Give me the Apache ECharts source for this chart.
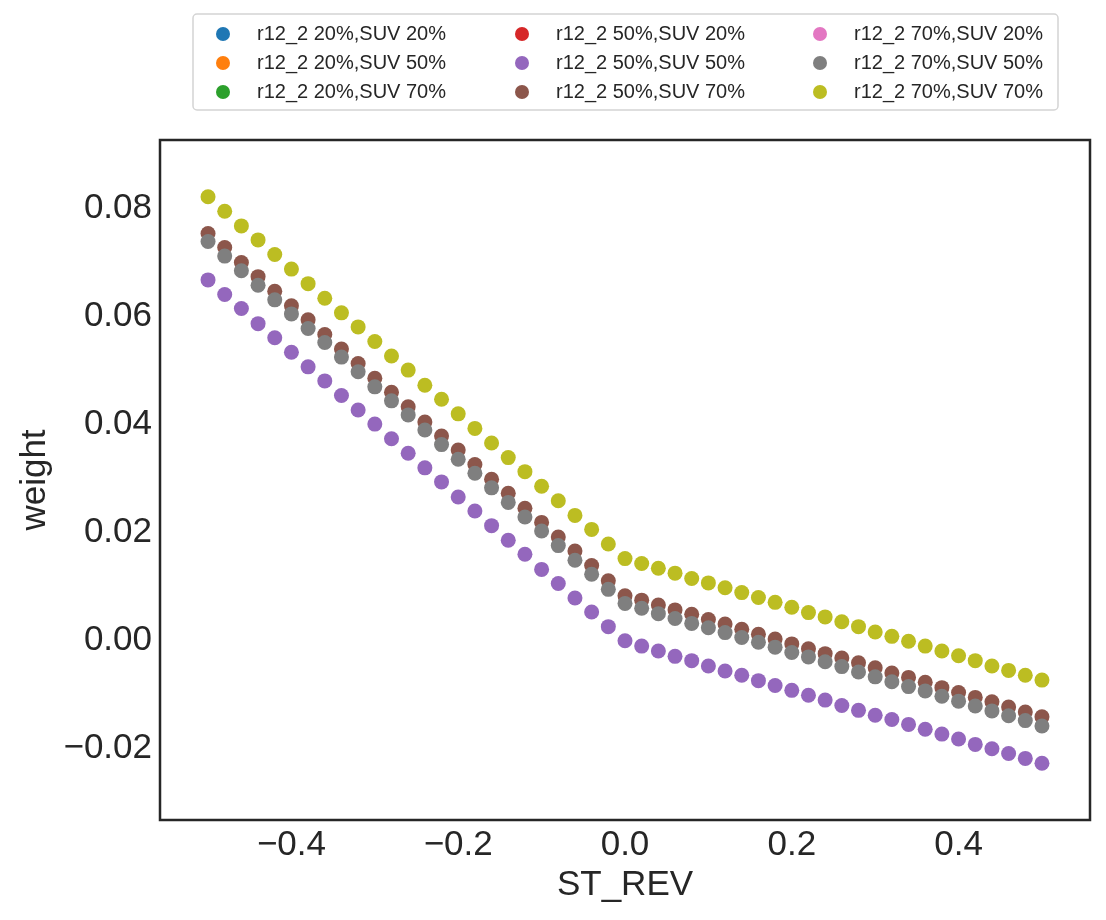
<!DOCTYPE html>
<html>
<head>
<meta charset="utf-8">
<title>weight vs ST_REV</title>
<script src="https://cdn.jsdelivr.net/npm/echarts@6/dist/echarts.min.js"></script>
<style>
  html, body { margin: 0; padding: 0; background: #fff; }
  #main { width: 1106px; height: 920px; }
</style>
</head>
<body>
<div id="main"></div>
<script>
// x values: ST_REV from -0.5 to 0.5, step 0.02
var stRev = [-0.5, -0.48, -0.46, -0.44, -0.42, -0.4, -0.38, -0.36, -0.34, -0.32,
  -0.3, -0.28, -0.26, -0.24, -0.22, -0.2, -0.18, -0.16, -0.14, -0.12,
  -0.1, -0.08, -0.06, -0.04, -0.02, 0, 0.02, 0.04, 0.06, 0.08,
  0.1, 0.12, 0.14, 0.16, 0.18, 0.2, 0.22, 0.24, 0.26, 0.28,
  0.3, 0.32, 0.34, 0.36, 0.38, 0.4, 0.42, 0.44, 0.46, 0.48, 0.5];

// series that are hidden in the picture (no visible marks)
var w20_20 = [];
var w20_50 = [];
var w20_70 = [];
var w50_20 = [];
var w70_20 = [];

// r12_2 50%,SUV 50%
var w50_50 = [0.0667, 0.0640, 0.0614, 0.0586, 0.0560, 0.0533, 0.0506, 0.0480, 0.0453, 0.0426,
  0.0400, 0.0373, 0.0346, 0.0319, 0.0293, 0.0265, 0.0239, 0.0212, 0.0185, 0.0159,
  0.0131, 0.0105, 0.0078, 0.0052, 0.0025, -0.0001, -0.0011, -0.0020, -0.0030, -0.0038,
  -0.0048, -0.0057, -0.0065, -0.0075, -0.0084, -0.0093, -0.0102, -0.0111, -0.0121, -0.0130,
  -0.0139, -0.0147, -0.0156, -0.0165, -0.0174, -0.0183, -0.0193, -0.0201, -0.0210, -0.0219, -0.0228];

// r12_2 50%,SUV 70%
var w50_70 = [0.0753, 0.0727, 0.0699, 0.0673, 0.0646, 0.0619, 0.0593, 0.0566, 0.0539, 0.0512,
  0.0485, 0.0459, 0.0432, 0.0404, 0.0378, 0.0352, 0.0325, 0.0298, 0.0272, 0.0244,
  0.0218, 0.0191, 0.0165, 0.0138, 0.0110, 0.0082, 0.0074, 0.0065, 0.0056, 0.0048,
  0.0038, 0.0030, 0.0020, 0.0011, 0.0002, -0.0007, -0.0016, -0.0025, -0.0033, -0.0042,
  -0.0051, -0.0061, -0.0069, -0.0078, -0.0088, -0.0097, -0.0106, -0.0114, -0.0124, -0.0133, -0.0142];

// r12_2 70%,SUV 50%
var w70_50 = [0.0738, 0.0711, 0.0684, 0.0657, 0.0630, 0.0604, 0.0577, 0.0551, 0.0524, 0.0497,
  0.0469, 0.0443, 0.0417, 0.0389, 0.0362, 0.0335, 0.0309, 0.0282, 0.0255, 0.0228,
  0.0202, 0.0175, 0.0148, 0.0122, 0.0094, 0.0068, 0.0059, 0.0049, 0.0040, 0.0031,
  0.0023, 0.0014, 0.0005, -0.0004, -0.0013, -0.0023, -0.0031, -0.0040, -0.0049, -0.0059,
  -0.0068, -0.0077, -0.0086, -0.0094, -0.0104, -0.0113, -0.0122, -0.0131, -0.0140, -0.0149, -0.0159];

// r12_2 70%,SUV 70%
var w70_70 = [0.0821, 0.0794, 0.0767, 0.0741, 0.0714, 0.0687, 0.0660, 0.0633, 0.0606, 0.0580,
  0.0553, 0.0526, 0.0500, 0.0472, 0.0446, 0.0419, 0.0392, 0.0365, 0.0338, 0.0312,
  0.0285, 0.0258, 0.0231, 0.0205, 0.0178, 0.0151, 0.0142, 0.0133, 0.0124, 0.0114,
  0.0106, 0.0097, 0.0088, 0.0079, 0.0070, 0.0061, 0.0051, 0.0043, 0.0034, 0.0025,
  0.0015, 0.0007, -0.0002, -0.0011, -0.0020, -0.0029, -0.0038, -0.0048, -0.0056, -0.0065, -0.0074];

var xTicks = [-0.4, -0.2, 0, 0.2, 0.4];
var yTicks = [-0.02, 0, 0.02, 0.04, 0.06, 0.08];

var names = ['r12_2 20%,SUV 20%', 'r12_2 20%,SUV 50%', 'r12_2 20%,SUV 70%',
  'r12_2 50%,SUV 20%', 'r12_2 50%,SUV 50%', 'r12_2 50%,SUV 70%',
  'r12_2 70%,SUV 20%', 'r12_2 70%,SUV 50%', 'r12_2 70%,SUV 70%'];
var values = [w20_20, w20_50, w20_70, w50_20, w50_50, w50_70, w70_20, w70_50, w70_70];
var colors = ['#1f77b4', '#ff7f0e', '#2ca02c', '#d62728', '#9467bd',
  '#8c564b', '#e377c2', '#7f7f7f', '#bcbd22'];

var FONT = '"Liberation Sans", Arial, sans-serif';
var TXT = '#262626';

function pairs(ys) {
  var out = [];
  for (var i = 0; i < ys.length; i++) out.push([stRev[i], ys[i]]);
  return out;
}

function fmt(v, d) {
  var s = Math.abs(v) < 1e-9 ? (0).toFixed(d) : Math.abs(v).toFixed(d);
  return v < -1e-9 ? '\u2212' + s : s;
}

var series = [];
for (var i = 0; i < names.length; i++) {
  series.push({
    name: names[i],
    type: 'scatter',
    symbol: 'circle',
    symbolSize: 15,
    itemStyle: { color: colors[i], opacity: 1 },
    data: pairs(values[i]),
    animation: false
  });
}

function legendCol(left, items) {
  return {
    orient: 'vertical',
    left: left,
    top: 19,
    icon: 'circle',
    itemWidth: 14,
    itemHeight: 14,
    itemGap: 9,
    data: items,
    textStyle: { fontFamily: FONT, fontSize: 20, color: TXT, lineHeight: 20, padding: [0, 0, 0, 22] },
    selectedMode: false
  };
}

var myChart = echarts.init(document.getElementById('main'));
var option = {
  backgroundColor: '#fff',
  color: colors,
  animation: false,
  grid: {
    left: 160, right: 16, top: 140, bottom: 100,
    show: true, borderColor: TXT, borderWidth: 2.5, backgroundColor: 'transparent'
  },
  legend: [
    legendCol(211, names.slice(0, 3)),
    legendCol(510, names.slice(3, 6)),
    legendCol(808, names.slice(6, 9))
  ],
  graphic: [{
    type: 'rect',
    shape: { x: 193, y: 14, width: 865, height: 96, r: 4 },
    style: { fill: 'none', stroke: '#d4d4d4', lineWidth: 1.5 },
    z: -1
  }],
  xAxis: {
    type: 'value',
    min: -0.5576,
    max: 0.5576,
    name: 'ST_REV',
    nameLocation: 'middle',
    nameGap: 45,
    nameTextStyle: { fontFamily: FONT, fontSize: 35, color: TXT },
    axisLine: { show: false },
    axisTick: { show: false, customValues: xTicks },
    splitLine: { show: false },
    axisLabel: {
      customValues: xTicks,
      fontFamily: FONT, fontSize: 35, color: TXT, margin: 8,
      formatter: function (v) { return fmt(v, 1); }
    }
  },
  yAxis: {
    type: 'value',
    min: -0.0333,
    max: 0.0926,
    name: 'weight',
    nameLocation: 'middle',
    nameGap: 105,
    nameTextStyle: { fontFamily: FONT, fontSize: 35, color: TXT },
    axisLine: { show: false },
    axisTick: { show: false, customValues: yTicks },
    splitLine: { show: false },
    axisLabel: {
      customValues: yTicks,
      fontFamily: FONT, fontSize: 35, color: TXT, margin: 8,
      formatter: function (v) { return fmt(v, 2); }
    }
  },
  series: series
};
myChart.setOption(option);
</script>
</body>
</html>
